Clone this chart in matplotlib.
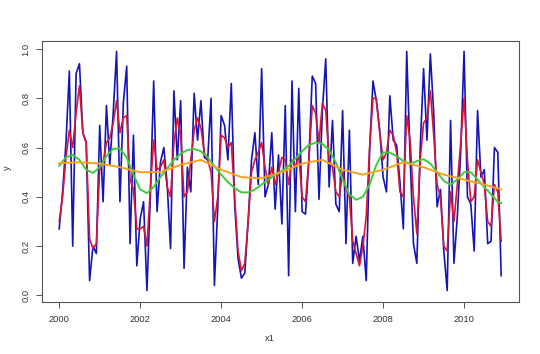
import numpy as np
import matplotlib
matplotlib.use("Agg")
import matplotlib.pyplot as plt

plt.rcParams['font.family'] = ['Liberation Sans', 'DejaVu Sans']

# monthly series, Jan 2000 .. Dec 2010
start_year = 2000
y_raw = [0.27, 0.42, 0.62, 0.91, 0.20, 0.90, 0.94, 0.66, 0.62, 0.06, 0.20, 0.17,
         0.69, 0.38, 0.77, 0.53, 0.74, 0.99, 0.38, 0.78, 0.93, 0.21, 0.65, 0.12,
         0.31, 0.38, 0.02, 0.40, 0.87, 0.34, 0.54, 0.60, 0.45, 0.19, 0.83, 0.55,
         0.79, 0.11, 0.52, 0.42, 0.82, 0.63, 0.79, 0.56, 0.55, 0.80, 0.04, 0.36,
         0.73, 0.69, 0.55, 0.86, 0.37, 0.15, 0.07, 0.09, 0.30, 0.55, 0.66, 0.45,
         0.92, 0.40, 0.45, 0.66, 0.35, 0.57, 0.29, 0.77, 0.08, 0.87, 0.34, 0.84,
         0.34, 0.33, 0.55, 0.89, 0.86, 0.39, 0.75, 0.96, 0.44, 0.71, 0.37, 0.34,
         0.75, 0.21, 0.67, 0.13, 0.24, 0.14, 0.24, 0.06, 0.59, 0.87, 0.79, 0.67,
         0.48, 0.42, 0.81, 0.63, 0.61, 0.46, 0.27, 0.99, 0.56, 0.21, 0.13, 0.60,
         0.92, 0.63, 0.98, 0.74, 0.36, 0.43, 0.18, 0.02, 0.71, 0.13, 0.32, 0.58,
         0.99, 0.40, 0.37, 0.18, 0.75, 0.48, 0.51, 0.21, 0.22, 0.60, 0.58, 0.08]

y_smooth1 = [0.30, 0.40, 0.56, 0.67, 0.60, 0.74, 0.85, 0.66, 0.62, 0.23, 0.19, 0.21,
             0.51, 0.54, 0.62, 0.64, 0.70, 0.79, 0.66, 0.72, 0.73, 0.47, 0.43, 0.27,
             0.27, 0.28, 0.20, 0.43, 0.63, 0.51, 0.52, 0.55, 0.44, 0.40, 0.62, 0.72,
             0.65, 0.40, 0.42, 0.55, 0.67, 0.72, 0.68, 0.58, 0.55, 0.50, 0.30, 0.40,
             0.65, 0.64, 0.60, 0.62, 0.40, 0.18, 0.10, 0.13, 0.30, 0.50, 0.55, 0.58,
             0.62, 0.52, 0.45, 0.52, 0.45, 0.50, 0.56, 0.55, 0.45, 0.55, 0.52, 0.57,
             0.40, 0.38, 0.55, 0.77, 0.74, 0.62, 0.78, 0.75, 0.55, 0.52, 0.42, 0.40,
             0.50, 0.43, 0.40, 0.22, 0.17, 0.12, 0.20, 0.32, 0.60, 0.80, 0.80, 0.66,
             0.55, 0.58, 0.67, 0.65, 0.58, 0.42, 0.40, 0.73, 0.63, 0.40, 0.25, 0.55,
             0.70, 0.72, 0.83, 0.65, 0.45, 0.40, 0.20, 0.18, 0.42, 0.30, 0.45, 0.62,
             0.80, 0.55, 0.38, 0.40, 0.55, 0.50, 0.45, 0.30, 0.28, 0.45, 0.42, 0.22]

# smoother curves, read every 2 months / every 6 months
green_months = list(range(0, 131, 2)) + [131]
y_smooth2 = [0.526, 0.56, 0.57, 0.55, 0.51, 0.497, 0.52, 0.565, 0.595, 0.595, 0.56,
             0.49, 0.43, 0.415, 0.44, 0.48, 0.515, 0.55, 0.575, 0.59, 0.594, 0.585,
             0.56, 0.525, 0.49, 0.46, 0.435, 0.418, 0.418, 0.43, 0.45, 0.47, 0.49,
             0.505, 0.525, 0.555, 0.585, 0.61, 0.62, 0.615, 0.59, 0.54, 0.47, 0.41,
             0.388, 0.40, 0.45, 0.53, 0.58, 0.58, 0.565, 0.545, 0.534, 0.545, 0.553,
             0.535, 0.50, 0.465, 0.449, 0.47, 0.50, 0.50, 0.47, 0.44, 0.41, 0.38, 0.375]

orange_months = list(range(0, 127, 6)) + [131]
y_smooth3 = [0.537, 0.54, 0.535, 0.52, 0.50, 0.50, 0.53, 0.55, 0.51, 0.48, 0.475,
             0.50, 0.535, 0.55, 0.51, 0.49, 0.51, 0.54, 0.52, 0.49, 0.47, 0.45, 0.43]

x1 = start_year + np.arange(len(y_raw)) / 12.0
x_green = start_year + np.array(green_months) / 12.0
x_orange = start_year + np.array(orange_months) / 12.0

fig = plt.figure(figsize=(5.4, 3.54), dpi=100)
ax = fig.add_axes([0.0769, 0.146, 0.884, 0.738])

ax.plot(x1, y_raw, color='#1515b5', lw=1.2)
ax.plot(x1, y_smooth1, color='#d81438', lw=1.2)
ax.plot(x_green, y_smooth2, color='#3ccc3c', lw=1.4)
ax.plot(x_orange, y_smooth3, color='#f5a21e', lw=1.4)

ax.set_xlim(1999.563, 2011.354)
ax.set_ylim(-0.028, 1.032)
ax.set_xticks(range(2000, 2011, 2))
ax.set_yticks([0.0, 0.2, 0.4, 0.6, 0.8, 1.0])
ax.set_yticklabels(['0.0', '0.2', '0.4', '0.6', '0.8', '1.0'], rotation=90, va='center')
ax.tick_params(direction='out', length=4, width=0.7, colors='#555555',
               labelcolor='#333333', labelsize=6.7)
ax.tick_params(axis='x', pad=5)
ax.tick_params(axis='y', pad=4)
for s in ax.spines.values():
    s.set_color('#555555')
    s.set_linewidth(0.8)

fig.text(270 / 540, 1 - 338.5 / 354, 'x1', ha='center', va='center', fontsize=6.7, color='#333333')
fig.text(7 / 540, 1 - 168 / 354, 'y', ha='center', va='center', rotation=90, fontsize=6.7, color='#333333')

fig.savefig('out.png', dpi=100)
